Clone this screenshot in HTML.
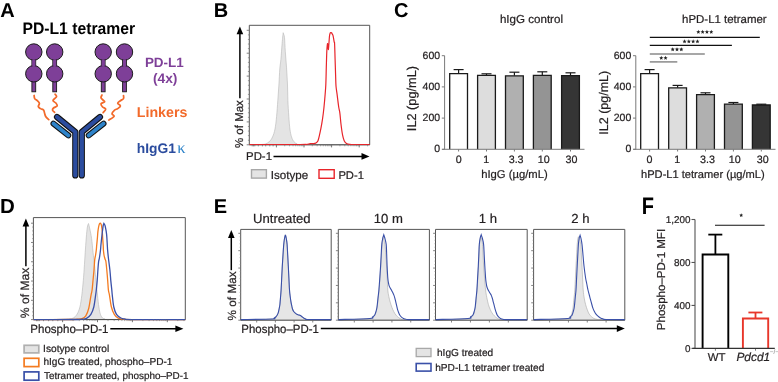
<!DOCTYPE html>
<html><head><meta charset="utf-8"><style>
html,body{margin:0;padding:0;background:#fff;overflow:hidden;}
svg{display:block;font-family:"Liberation Sans", sans-serif;will-change:transform;text-rendering:geometricPrecision;}
</style></head><body>
<svg width="778" height="382" viewBox="0 0 778 382">
<text x="0.15" y="16.5" font-size="20" text-anchor="start" font-weight="bold" fill="#000">A</text>
<text x="0" y="0" font-size="15.72" font-weight="bold" fill="#000" transform="translate(22.45 33.7) scale(1 1.06)">PD-L1 tetramer</text>
<rect x="31.9" y="58" width="3.8" height="33.8" fill="#7e3f98" stroke="#1a1a1a" stroke-width="0.9"/>
<circle cx="33.8" cy="52" r="8.2" fill="#7e3f98" stroke="#1a1a1a" stroke-width="1"/>
<circle cx="33.8" cy="73.8" r="8.2" fill="#7e3f98" stroke="#1a1a1a" stroke-width="1"/>
<rect x="32.3" y="59.5" width="3.0" height="7" fill="#7e3f98" stroke="none" stroke-width="1"/>
<rect x="52.800000000000004" y="58" width="3.8" height="33.8" fill="#7e3f98" stroke="#1a1a1a" stroke-width="0.9"/>
<circle cx="54.7" cy="52" r="8.2" fill="#7e3f98" stroke="#1a1a1a" stroke-width="1"/>
<circle cx="54.7" cy="73.8" r="8.2" fill="#7e3f98" stroke="#1a1a1a" stroke-width="1"/>
<rect x="53.2" y="59.5" width="3.0" height="7" fill="#7e3f98" stroke="none" stroke-width="1"/>
<rect x="101.3" y="58" width="3.8" height="33.8" fill="#7e3f98" stroke="#1a1a1a" stroke-width="0.9"/>
<circle cx="103.2" cy="52" r="8.2" fill="#7e3f98" stroke="#1a1a1a" stroke-width="1"/>
<circle cx="103.2" cy="73.8" r="8.2" fill="#7e3f98" stroke="#1a1a1a" stroke-width="1"/>
<rect x="101.7" y="59.5" width="3.0" height="7" fill="#7e3f98" stroke="none" stroke-width="1"/>
<rect x="122.6" y="58" width="3.8" height="33.8" fill="#7e3f98" stroke="#1a1a1a" stroke-width="0.9"/>
<circle cx="124.5" cy="52" r="8.2" fill="#7e3f98" stroke="#1a1a1a" stroke-width="1"/>
<circle cx="124.5" cy="73.8" r="8.2" fill="#7e3f98" stroke="#1a1a1a" stroke-width="1"/>
<rect x="123.0" y="59.5" width="3.0" height="7" fill="#7e3f98" stroke="none" stroke-width="1"/>
<path d="M34.10,95.50 C34.20,96.02 34.17,97.73 34.70,98.60 C35.23,99.47 36.52,99.92 37.30,100.70 C38.08,101.48 39.23,102.33 39.40,103.30 C39.57,104.27 38.13,105.62 38.30,106.50 C38.47,107.38 39.52,108.00 40.40,108.60 C41.28,109.20 42.90,109.32 43.60,110.10 C44.30,110.88 44.25,112.25 44.60,113.30 C44.95,114.35 45.00,115.35 45.70,116.40 C46.40,117.45 48.28,119.07 48.80,119.60" fill="none" stroke="#f26a2a" stroke-width="1.75" stroke-linecap="round"/>
<path d="M55.10,94.20 C55.35,94.58 56.68,95.77 56.60,96.50 C56.52,97.23 55.20,97.90 54.60,98.60 C54.00,99.30 52.75,99.92 53.00,100.70 C53.25,101.48 55.40,102.43 56.10,103.30 C56.80,104.17 57.63,105.12 57.20,105.90 C56.77,106.68 54.28,107.30 53.50,108.00 C52.72,108.70 52.32,109.37 52.50,110.10 C52.68,110.83 54.25,112.02 54.60,112.40" fill="none" stroke="#f26a2a" stroke-width="1.75" stroke-linecap="round"/>
<path d="M102.00,95.00 C101.83,95.43 100.90,96.82 101.00,97.60 C101.10,98.38 101.98,99.00 102.60,99.70 C103.22,100.40 104.97,101.12 104.70,101.80 C104.43,102.48 101.35,102.93 101.00,103.80 C100.65,104.67 101.82,106.12 102.60,107.00 C103.38,107.88 105.62,108.15 105.70,109.10 C105.78,110.05 103.53,112.10 103.10,112.70" fill="none" stroke="#f26a2a" stroke-width="1.75" stroke-linecap="round"/>
<path d="M123.50,95.50 C123.50,96.02 124.02,97.73 123.50,98.60 C122.98,99.47 121.37,99.92 120.40,100.70 C119.43,101.48 117.70,102.43 117.70,103.30 C117.70,104.17 120.40,105.02 120.40,105.90 C120.40,106.78 118.67,107.90 117.70,108.60 C116.73,109.30 115.55,109.23 114.60,110.10 C113.65,110.97 112.08,112.75 112.00,113.80 C111.92,114.85 114.63,115.35 114.10,116.40 C113.57,117.45 109.68,119.48 108.80,120.10" fill="none" stroke="#f26a2a" stroke-width="1.75" stroke-linecap="round"/>
<path d="M57.0,117.0 L75.3,132.0 L75.3,175.5" fill="none" stroke="#111" stroke-width="6.2" stroke-linecap="round" stroke-linejoin="round"/>
<path d="M57.0,117.0 L75.3,132.0 L75.3,175.5" fill="none" stroke="#2b4c9e" stroke-width="4.2" stroke-linecap="round" stroke-linejoin="round"/>
<path d="M100.0,117.0 L81.8,132.0 L81.8,175.5" fill="none" stroke="#111" stroke-width="6.2" stroke-linecap="round" stroke-linejoin="round"/>
<path d="M100.0,117.0 L81.8,132.0 L81.8,175.5" fill="none" stroke="#2b4c9e" stroke-width="4.2" stroke-linecap="round" stroke-linejoin="round"/>
<path d="M53.4,123.6 L68.4,135.4" fill="none" stroke="#111" stroke-width="5.8" stroke-linecap="round"/>
<path d="M53.4,123.6 L68.4,135.4" fill="none" stroke="#2e83c9" stroke-width="3.8" stroke-linecap="round"/>
<path d="M103.6,123.6 L88.6,135.4" fill="none" stroke="#111" stroke-width="5.8" stroke-linecap="round"/>
<path d="M103.6,123.6 L88.6,135.4" fill="none" stroke="#2e83c9" stroke-width="3.8" stroke-linecap="round"/>
<text x="144.90" y="66.90" font-size="13.46" font-weight="bold" fill="#7e3f98">PD-L1</text>
<text x="152.91" y="83.20" font-size="13.8" font-weight="bold" fill="#7e3f98">(4x)</text>
<text x="136.85" y="117.00" font-size="14.2" font-weight="bold" fill="#f26a2a">Linkers</text>
<text x="136.84" y="152.60" font-size="13.8" font-weight="bold" fill="#2b4c9e">hIgG1</text>
<text x="177.3" y="153.2" font-size="16.5" font-family="Liberation Serif, serif" fill="#2e83c9">&#954;</text>
<text x="213.8" y="16.7" font-size="20" text-anchor="start" font-weight="bold" fill="#000">B</text>
<path d="M249.30,144.80 C250.75,144.78 255.80,144.77 258.00,144.70 C260.20,144.63 261.23,144.53 262.50,144.40 C263.77,144.27 264.43,144.38 265.60,143.90 C266.77,143.42 268.33,142.68 269.50,141.50 C270.67,140.32 271.68,138.88 272.60,136.80 C273.52,134.72 274.33,132.40 275.00,129.00 C275.67,125.60 276.13,121.12 276.60,116.40 C277.07,111.68 277.42,105.93 277.80,100.70 C278.18,95.47 278.57,90.32 278.90,85.00 C279.23,79.68 279.47,73.07 279.80,68.80 C280.13,64.53 280.52,63.58 280.90,59.40 C281.28,55.22 281.80,47.43 282.10,43.70 C282.40,39.97 282.52,38.83 282.70,37.00 C282.88,35.17 283.12,33.42 283.20,32.70 C283.32,33.08 283.68,34.22 283.90,35.00 C284.12,35.78 284.27,34.65 284.50,37.40 C284.73,40.15 284.97,46.53 285.30,51.50 C285.63,56.47 286.13,61.62 286.50,67.20 C286.87,72.78 287.27,79.42 287.50,85.00 C287.73,90.58 287.68,95.47 287.90,100.70 C288.12,105.93 288.47,111.68 288.80,116.40 C289.13,121.12 289.45,125.60 289.90,129.00 C290.35,132.40 290.85,134.72 291.50,136.80 C292.15,138.88 292.88,140.32 293.80,141.50 C294.72,142.68 295.80,143.38 297.00,143.90 C298.20,144.42 288.88,144.45 301.00,144.60 C313.12,144.75 358.25,144.77 369.70,144.80 Z" fill="#e4e4e4" stroke="#b5b5b5" stroke-width="0.6"/>
<path d="M249.3,144.8 L249.3,25.3 L369.7,25.3 L369.7,144.8" fill="none" stroke="#555" stroke-width="1"/>
<line x1="249.3" y1="144.8" x2="369.7" y2="144.8" stroke="#444" stroke-width="1"/>
<path d="M249.30,144.50 C257.75,144.50 290.48,144.53 300.00,144.50 C309.52,144.47 304.82,144.42 306.40,144.30 C307.98,144.18 308.63,143.93 309.50,143.80 C310.37,143.67 310.92,143.52 311.60,143.50 C312.28,143.48 312.88,143.78 313.60,143.70 C314.32,143.62 315.17,143.50 315.90,143.00 C316.63,142.50 317.35,142.25 318.00,140.70 C318.65,139.15 319.18,136.45 319.80,133.70 C320.42,130.95 321.12,127.60 321.70,124.20 C322.28,120.80 322.82,117.22 323.30,113.30 C323.78,109.38 324.18,105.42 324.60,100.70 C325.02,95.98 325.52,90.58 325.80,85.00 C326.08,79.42 326.13,72.78 326.30,67.20 C326.47,61.62 326.63,55.20 326.80,51.50 C326.97,47.80 327.17,46.30 327.30,45.00 C327.43,43.70 327.48,43.53 327.60,43.70 C327.72,43.87 327.87,45.03 328.00,46.00 C328.13,46.97 328.25,49.83 328.40,49.50 C328.55,49.17 328.72,46.25 328.90,44.00 C329.08,41.75 329.28,37.83 329.50,36.00 C329.72,34.17 329.97,33.57 330.20,33.00 C330.43,32.43 330.78,32.67 330.90,32.60 C331.03,32.67 331.43,32.68 331.70,33.00 C331.97,33.32 332.27,34.03 332.50,34.50 C332.73,34.97 332.82,34.53 333.10,35.80 C333.38,37.07 333.95,40.78 334.20,42.10 C334.45,43.42 334.45,40.82 334.60,43.70 C334.75,46.58 334.93,54.18 335.10,59.40 C335.27,64.62 335.45,70.57 335.60,75.00 C335.75,79.43 335.75,82.77 336.00,86.00 C336.25,89.23 336.65,90.90 337.10,94.40 C337.55,97.90 338.23,103.85 338.70,107.00 C339.17,110.15 339.52,110.43 339.90,113.30 C340.28,116.17 340.55,120.55 341.00,124.20 C341.45,127.85 342.07,132.45 342.60,135.20 C343.13,137.95 343.55,139.33 344.20,140.70 C344.85,142.07 345.58,142.80 346.50,143.40 C347.42,144.00 348.28,144.12 349.70,144.30 C351.12,144.48 351.67,144.47 355.00,144.50 C358.33,144.53 367.25,144.50 369.70,144.50" fill="none" stroke="#e8242a" stroke-width="1.2"/>
<line x1="246.70000000000002" y1="144.8" x2="249.3" y2="144.8" stroke="#777" stroke-width="0.9"/>
<line x1="247.9" y1="140.22" x2="249.3" y2="140.22" stroke="#777" stroke-width="0.7"/>
<line x1="247.9" y1="135.64000000000001" x2="249.3" y2="135.64000000000001" stroke="#777" stroke-width="0.7"/>
<line x1="247.9" y1="131.06" x2="249.3" y2="131.06" stroke="#777" stroke-width="0.7"/>
<line x1="247.9" y1="126.48000000000002" x2="249.3" y2="126.48000000000002" stroke="#777" stroke-width="0.7"/>
<line x1="246.70000000000002" y1="121.9" x2="249.3" y2="121.9" stroke="#777" stroke-width="0.9"/>
<line x1="247.9" y1="117.32000000000001" x2="249.3" y2="117.32000000000001" stroke="#777" stroke-width="0.7"/>
<line x1="247.9" y1="112.74000000000001" x2="249.3" y2="112.74000000000001" stroke="#777" stroke-width="0.7"/>
<line x1="247.9" y1="108.16000000000001" x2="249.3" y2="108.16000000000001" stroke="#777" stroke-width="0.7"/>
<line x1="247.9" y1="103.58000000000001" x2="249.3" y2="103.58000000000001" stroke="#777" stroke-width="0.7"/>
<line x1="246.70000000000002" y1="99.00000000000001" x2="249.3" y2="99.00000000000001" stroke="#777" stroke-width="0.9"/>
<line x1="247.9" y1="94.42000000000002" x2="249.3" y2="94.42000000000002" stroke="#777" stroke-width="0.7"/>
<line x1="247.9" y1="89.84000000000002" x2="249.3" y2="89.84000000000002" stroke="#777" stroke-width="0.7"/>
<line x1="247.9" y1="85.26000000000002" x2="249.3" y2="85.26000000000002" stroke="#777" stroke-width="0.7"/>
<line x1="247.9" y1="80.68" x2="249.3" y2="80.68" stroke="#777" stroke-width="0.7"/>
<line x1="246.70000000000002" y1="76.10000000000002" x2="249.3" y2="76.10000000000002" stroke="#777" stroke-width="0.9"/>
<line x1="247.9" y1="71.52000000000002" x2="249.3" y2="71.52000000000002" stroke="#777" stroke-width="0.7"/>
<line x1="247.9" y1="66.94000000000003" x2="249.3" y2="66.94000000000003" stroke="#777" stroke-width="0.7"/>
<line x1="247.9" y1="62.36000000000003" x2="249.3" y2="62.36000000000003" stroke="#777" stroke-width="0.7"/>
<line x1="247.9" y1="57.78000000000002" x2="249.3" y2="57.78000000000002" stroke="#777" stroke-width="0.7"/>
<line x1="246.70000000000002" y1="53.20000000000002" x2="249.3" y2="53.20000000000002" stroke="#777" stroke-width="0.9"/>
<line x1="247.9" y1="48.62000000000002" x2="249.3" y2="48.62000000000002" stroke="#777" stroke-width="0.7"/>
<line x1="247.9" y1="44.04000000000002" x2="249.3" y2="44.04000000000002" stroke="#777" stroke-width="0.7"/>
<line x1="247.9" y1="39.46000000000002" x2="249.3" y2="39.46000000000002" stroke="#777" stroke-width="0.7"/>
<line x1="247.9" y1="34.88000000000002" x2="249.3" y2="34.88000000000002" stroke="#777" stroke-width="0.7"/>
<line x1="246.70000000000002" y1="30.30000000000001" x2="249.3" y2="30.30000000000001" stroke="#777" stroke-width="0.9"/>
<line x1="276.4" y1="144.8" x2="276.4" y2="147.4" stroke="#666" stroke-width="0.9"/>
<line x1="304.0" y1="144.8" x2="304.0" y2="147.4" stroke="#666" stroke-width="0.9"/>
<line x1="331.6" y1="144.8" x2="331.6" y2="147.4" stroke="#666" stroke-width="0.9"/>
<line x1="359.2" y1="144.8" x2="359.2" y2="147.4" stroke="#666" stroke-width="0.9"/>
<line x1="284.70842788032587" y1="144.8" x2="284.70842788032587" y2="146.3" stroke="#777" stroke-width="0.6"/>
<line x1="289.5685466302627" y1="144.8" x2="289.5685466302627" y2="146.3" stroke="#777" stroke-width="0.6"/>
<line x1="293.01685576065177" y1="144.8" x2="293.01685576065177" y2="146.3" stroke="#777" stroke-width="0.6"/>
<line x1="295.6915721196741" y1="144.8" x2="295.6915721196741" y2="146.3" stroke="#777" stroke-width="0.6"/>
<line x1="297.8769745105885" y1="144.8" x2="297.8769745105885" y2="146.3" stroke="#777" stroke-width="0.6"/>
<line x1="299.7247059043935" y1="144.8" x2="299.7247059043935" y2="146.3" stroke="#777" stroke-width="0.6"/>
<line x1="301.3252836409776" y1="144.8" x2="301.3252836409776" y2="146.3" stroke="#777" stroke-width="0.6"/>
<line x1="302.73709326052534" y1="144.8" x2="302.73709326052534" y2="146.3" stroke="#777" stroke-width="0.6"/>
<line x1="312.3084278803259" y1="144.8" x2="312.3084278803259" y2="146.3" stroke="#777" stroke-width="0.6"/>
<line x1="317.1685466302627" y1="144.8" x2="317.1685466302627" y2="146.3" stroke="#777" stroke-width="0.6"/>
<line x1="320.6168557606518" y1="144.8" x2="320.6168557606518" y2="146.3" stroke="#777" stroke-width="0.6"/>
<line x1="323.29157211967413" y1="144.8" x2="323.29157211967413" y2="146.3" stroke="#777" stroke-width="0.6"/>
<line x1="325.47697451058855" y1="144.8" x2="325.47697451058855" y2="146.3" stroke="#777" stroke-width="0.6"/>
<line x1="327.3247059043935" y1="144.8" x2="327.3247059043935" y2="146.3" stroke="#777" stroke-width="0.6"/>
<line x1="328.9252836409776" y1="144.8" x2="328.9252836409776" y2="146.3" stroke="#777" stroke-width="0.6"/>
<line x1="330.33709326052536" y1="144.8" x2="330.33709326052536" y2="146.3" stroke="#777" stroke-width="0.6"/>
<line x1="339.9084278803259" y1="144.8" x2="339.9084278803259" y2="146.3" stroke="#777" stroke-width="0.6"/>
<line x1="344.76854663026273" y1="144.8" x2="344.76854663026273" y2="146.3" stroke="#777" stroke-width="0.6"/>
<line x1="348.2168557606518" y1="144.8" x2="348.2168557606518" y2="146.3" stroke="#777" stroke-width="0.6"/>
<line x1="350.89157211967415" y1="144.8" x2="350.89157211967415" y2="146.3" stroke="#777" stroke-width="0.6"/>
<line x1="353.07697451058857" y1="144.8" x2="353.07697451058857" y2="146.3" stroke="#777" stroke-width="0.6"/>
<line x1="354.92470590439353" y1="144.8" x2="354.92470590439353" y2="146.3" stroke="#777" stroke-width="0.6"/>
<line x1="356.52528364097765" y1="144.8" x2="356.52528364097765" y2="146.3" stroke="#777" stroke-width="0.6"/>
<line x1="357.9370932605254" y1="144.8" x2="357.9370932605254" y2="146.3" stroke="#777" stroke-width="0.6"/>
<line x1="367.5084278803259" y1="144.8" x2="367.5084278803259" y2="146.3" stroke="#777" stroke-width="0.6"/>
<line x1="252.2" y1="144.8" x2="252.2" y2="146.4" stroke="#666" stroke-width="0.7"/>
<line x1="253.5" y1="144.8" x2="253.5" y2="146.4" stroke="#666" stroke-width="0.7"/>
<line x1="254.8" y1="144.8" x2="254.8" y2="146.4" stroke="#666" stroke-width="0.7"/>
<line x1="258.3" y1="144.8" x2="258.3" y2="146.4" stroke="#666" stroke-width="0.7"/>
<line x1="262.4" y1="144.8" x2="262.4" y2="146.4" stroke="#666" stroke-width="0.7"/>
<line x1="265.7" y1="144.8" x2="265.7" y2="146.4" stroke="#666" stroke-width="0.7"/>
<line x1="269.8" y1="144.8" x2="269.8" y2="146.4" stroke="#666" stroke-width="0.7"/>
<line x1="273.1" y1="144.8" x2="273.1" y2="146.4" stroke="#666" stroke-width="0.7"/>
<line x1="239.9" y1="98.2" x2="239.9" y2="33" stroke="#000" stroke-width="1.5"/>
<polygon points="239.9,26.4 236.6,34.2 243.2,34.2" fill="#000"/>
<text x="0" y="0" font-size="11.47" font-weight="normal" fill="#231f20" stroke="#231f20" stroke-width="0.22" transform="translate(242.60 148.01) rotate(-90)">% of Max</text>
<text x="246.06" y="159.50" font-size="11.4" font-weight="normal" fill="#231f20" stroke="#231f20" stroke-width="0.22">PD-1</text>
<line x1="273.5" y1="156.4" x2="362" y2="156.4" stroke="#000" stroke-width="1.5"/>
<polygon points="369.5,156.4 361.5,153.1 361.5,159.7" fill="#000"/>
<rect x="251.5" y="169.7" width="14.9" height="8.4" fill="#e4e4e4" stroke="#a8a8a8" stroke-width="1.4"/>
<text x="270.83" y="178.50" font-size="11.6" font-weight="normal" fill="#231f20" stroke="#231f20" stroke-width="0.22">Isotype</text>
<rect x="319.0" y="169.7" width="15.2" height="8.6" fill="#fff" stroke="#e8242a" stroke-width="1.4"/>
<text x="338.38" y="178.50" font-size="11.2" font-weight="normal" fill="#231f20" stroke="#231f20" stroke-width="0.22">PD-1</text>
<text x="393.9" y="16.9" font-size="20" text-anchor="start" font-weight="bold" fill="#000">C</text>
<line x1="458.6" y1="69.6" x2="458.6" y2="73.7" stroke="#1a1a1a" stroke-width="1.2"/>
<line x1="453.6" y1="69.6" x2="463.6" y2="69.6" stroke="#1a1a1a" stroke-width="1.2"/>
<rect x="449.70000000000005" y="73.7" width="17.8" height="75.60000000000001" fill="#ffffff" stroke="none" stroke-width="1"/>
<path d="M449.70000000000005,149.3 V73.7 H467.5 V149.3" fill="none" stroke="#1a1a1a" stroke-width="1.3"/>
<line x1="486.5" y1="73.8" x2="486.5" y2="75.3" stroke="#1a1a1a" stroke-width="1.2"/>
<line x1="481.5" y1="73.8" x2="491.5" y2="73.8" stroke="#1a1a1a" stroke-width="1.2"/>
<rect x="477.6" y="75.3" width="17.8" height="74.00000000000001" fill="#dddddd" stroke="none" stroke-width="1"/>
<path d="M477.6,149.3 V75.3 H495.4 V149.3" fill="none" stroke="#1a1a1a" stroke-width="1.3"/>
<line x1="514.4" y1="72.2" x2="514.4" y2="75.8" stroke="#1a1a1a" stroke-width="1.2"/>
<line x1="509.4" y1="72.2" x2="519.4" y2="72.2" stroke="#1a1a1a" stroke-width="1.2"/>
<rect x="505.5" y="75.8" width="17.8" height="73.50000000000001" fill="#b0b0b0" stroke="none" stroke-width="1"/>
<path d="M505.5,149.3 V75.8 H523.3 V149.3" fill="none" stroke="#1a1a1a" stroke-width="1.3"/>
<line x1="542.3" y1="71.8" x2="542.3" y2="75.3" stroke="#1a1a1a" stroke-width="1.2"/>
<line x1="537.3" y1="71.8" x2="547.3" y2="71.8" stroke="#1a1a1a" stroke-width="1.2"/>
<rect x="533.4" y="75.3" width="17.8" height="74.00000000000001" fill="#949494" stroke="none" stroke-width="1"/>
<path d="M533.4,149.3 V75.3 H551.1999999999999 V149.3" fill="none" stroke="#1a1a1a" stroke-width="1.3"/>
<line x1="570.5" y1="72.8" x2="570.5" y2="75.7" stroke="#1a1a1a" stroke-width="1.2"/>
<line x1="565.5" y1="72.8" x2="575.5" y2="72.8" stroke="#1a1a1a" stroke-width="1.2"/>
<rect x="561.6" y="75.7" width="17.8" height="73.60000000000001" fill="#353535" stroke="none" stroke-width="1"/>
<path d="M561.6,149.3 V75.7 H579.4 V149.3" fill="none" stroke="#1a1a1a" stroke-width="1.3"/>
<line x1="444.6" y1="55.7" x2="444.6" y2="149.3" stroke="#7a7a7a" stroke-width="1"/>
<line x1="442.3" y1="149.3" x2="584.5" y2="149.3" stroke="#7a7a7a" stroke-width="1"/>
<line x1="441.8" y1="149.3" x2="444.6" y2="149.3" stroke="#7a7a7a" stroke-width="1"/>
<text x="434.27" y="152.20" font-size="10.5" font-weight="normal" fill="#231f20" stroke="#231f20" stroke-width="0.22">0</text>
<line x1="441.8" y1="118.10000000000001" x2="444.6" y2="118.10000000000001" stroke="#7a7a7a" stroke-width="1"/>
<text x="422.59" y="121.00" font-size="10.5" font-weight="normal" fill="#231f20" stroke="#231f20" stroke-width="0.22">200</text>
<line x1="441.8" y1="86.9" x2="444.6" y2="86.9" stroke="#7a7a7a" stroke-width="1"/>
<text x="422.59" y="89.80" font-size="10.5" font-weight="normal" fill="#231f20" stroke="#231f20" stroke-width="0.22">400</text>
<line x1="441.8" y1="55.69999999999999" x2="444.6" y2="55.69999999999999" stroke="#7a7a7a" stroke-width="1"/>
<text x="422.59" y="58.60" font-size="10.5" font-weight="normal" fill="#231f20" stroke="#231f20" stroke-width="0.22">600</text>
<line x1="458.6" y1="149.3" x2="458.6" y2="151.5" stroke="#7a7a7a" stroke-width="1"/>
<line x1="486.5" y1="149.3" x2="486.5" y2="151.5" stroke="#7a7a7a" stroke-width="1"/>
<line x1="514.4" y1="149.3" x2="514.4" y2="151.5" stroke="#7a7a7a" stroke-width="1"/>
<line x1="542.3" y1="149.3" x2="542.3" y2="151.5" stroke="#7a7a7a" stroke-width="1"/>
<line x1="570.5" y1="149.3" x2="570.5" y2="151.5" stroke="#7a7a7a" stroke-width="1"/>
<text x="455.72" y="162.50" font-size="10.7" font-weight="normal" fill="#231f20" stroke="#231f20" stroke-width="0.22">0</text>
<text x="483.18" y="162.50" font-size="10.7" font-weight="normal" fill="#231f20" stroke="#231f20" stroke-width="0.22">1</text>
<text x="508.69" y="162.50" font-size="10.7" font-weight="normal" fill="#231f20" stroke="#231f20" stroke-width="0.22">3.3</text>
<text x="537.75" y="162.50" font-size="10.7" font-weight="normal" fill="#231f20" stroke="#231f20" stroke-width="0.22">10</text>
<text x="565.55" y="162.50" font-size="10.7" font-weight="normal" fill="#231f20" stroke="#231f20" stroke-width="0.22">30</text>
<text x="499.90" y="22.70" font-size="11.58" font-weight="normal" fill="#231f20" stroke="#231f20" stroke-width="0.22">hIgG control</text>
<text x="481.22" y="177.60" font-size="11.25" font-weight="normal" fill="#231f20" stroke="#231f20" stroke-width="0.22">hIgG (µg/mL)</text>
<text x="0" y="0" font-size="12.74" font-weight="normal" fill="#231f20" stroke="#231f20" stroke-width="0.22" transform="translate(415.70 131.16) rotate(-90)">IL2 (pg/mL)</text>
<line x1="649.6" y1="69.6" x2="649.6" y2="73.7" stroke="#1a1a1a" stroke-width="1.2"/>
<line x1="644.6" y1="69.6" x2="654.6" y2="69.6" stroke="#1a1a1a" stroke-width="1.2"/>
<rect x="640.7" y="73.7" width="17.8" height="75.60000000000001" fill="#ffffff" stroke="none" stroke-width="1"/>
<path d="M640.7,149.3 V73.7 H658.5 V149.3" fill="none" stroke="#1a1a1a" stroke-width="1.3"/>
<line x1="677.6" y1="85.4" x2="677.6" y2="87.8" stroke="#1a1a1a" stroke-width="1.2"/>
<line x1="672.6" y1="85.4" x2="682.6" y2="85.4" stroke="#1a1a1a" stroke-width="1.2"/>
<rect x="668.7" y="87.8" width="17.8" height="61.500000000000014" fill="#dddddd" stroke="none" stroke-width="1"/>
<path d="M668.7,149.3 V87.8 H686.5 V149.3" fill="none" stroke="#1a1a1a" stroke-width="1.3"/>
<line x1="705.5" y1="92.8" x2="705.5" y2="94.6" stroke="#1a1a1a" stroke-width="1.2"/>
<line x1="700.5" y1="92.8" x2="710.5" y2="92.8" stroke="#1a1a1a" stroke-width="1.2"/>
<rect x="696.6" y="94.6" width="17.8" height="54.70000000000002" fill="#b0b0b0" stroke="none" stroke-width="1"/>
<path d="M696.6,149.3 V94.6 H714.4 V149.3" fill="none" stroke="#1a1a1a" stroke-width="1.3"/>
<line x1="733.4" y1="102.5" x2="733.4" y2="104.1" stroke="#1a1a1a" stroke-width="1.2"/>
<line x1="728.4" y1="102.5" x2="738.4" y2="102.5" stroke="#1a1a1a" stroke-width="1.2"/>
<rect x="724.5" y="104.1" width="17.8" height="45.20000000000002" fill="#949494" stroke="none" stroke-width="1"/>
<path d="M724.5,149.3 V104.1 H742.3 V149.3" fill="none" stroke="#1a1a1a" stroke-width="1.3"/>
<line x1="761.3" y1="104.2" x2="761.3" y2="105.0" stroke="#1a1a1a" stroke-width="1.2"/>
<line x1="756.3" y1="104.2" x2="766.3" y2="104.2" stroke="#1a1a1a" stroke-width="1.2"/>
<rect x="752.4" y="105.0" width="17.8" height="44.30000000000001" fill="#353535" stroke="none" stroke-width="1"/>
<path d="M752.4,149.3 V105.0 H770.1999999999999 V149.3" fill="none" stroke="#1a1a1a" stroke-width="1.3"/>
<line x1="635.8" y1="55.7" x2="635.8" y2="149.3" stroke="#7a7a7a" stroke-width="1"/>
<line x1="633.5" y1="149.3" x2="775.5" y2="149.3" stroke="#7a7a7a" stroke-width="1"/>
<line x1="633.0" y1="149.3" x2="635.8" y2="149.3" stroke="#7a7a7a" stroke-width="1"/>
<text x="625.47" y="152.20" font-size="10.5" font-weight="normal" fill="#231f20" stroke="#231f20" stroke-width="0.22">0</text>
<line x1="633.0" y1="118.10000000000001" x2="635.8" y2="118.10000000000001" stroke="#7a7a7a" stroke-width="1"/>
<text x="613.79" y="121.00" font-size="10.5" font-weight="normal" fill="#231f20" stroke="#231f20" stroke-width="0.22">200</text>
<line x1="633.0" y1="86.9" x2="635.8" y2="86.9" stroke="#7a7a7a" stroke-width="1"/>
<text x="613.79" y="89.80" font-size="10.5" font-weight="normal" fill="#231f20" stroke="#231f20" stroke-width="0.22">400</text>
<line x1="633.0" y1="55.69999999999999" x2="635.8" y2="55.69999999999999" stroke="#7a7a7a" stroke-width="1"/>
<text x="613.79" y="58.60" font-size="10.5" font-weight="normal" fill="#231f20" stroke="#231f20" stroke-width="0.22">600</text>
<line x1="649.6" y1="149.3" x2="649.6" y2="151.5" stroke="#7a7a7a" stroke-width="1"/>
<line x1="677.6" y1="149.3" x2="677.6" y2="151.5" stroke="#7a7a7a" stroke-width="1"/>
<line x1="705.5" y1="149.3" x2="705.5" y2="151.5" stroke="#7a7a7a" stroke-width="1"/>
<line x1="733.4" y1="149.3" x2="733.4" y2="151.5" stroke="#7a7a7a" stroke-width="1"/>
<line x1="761.3" y1="149.3" x2="761.3" y2="151.5" stroke="#7a7a7a" stroke-width="1"/>
<text x="646.62" y="162.50" font-size="10.7" font-weight="normal" fill="#231f20" stroke="#231f20" stroke-width="0.22">0</text>
<text x="674.28" y="162.50" font-size="10.7" font-weight="normal" fill="#231f20" stroke="#231f20" stroke-width="0.22">1</text>
<text x="700.09" y="162.50" font-size="10.7" font-weight="normal" fill="#231f20" stroke="#231f20" stroke-width="0.22">3.3</text>
<text x="728.85" y="162.50" font-size="10.7" font-weight="normal" fill="#231f20" stroke="#231f20" stroke-width="0.22">10</text>
<text x="756.85" y="162.50" font-size="10.7" font-weight="normal" fill="#231f20" stroke="#231f20" stroke-width="0.22">30</text>
<text x="682.11" y="23.00" font-size="11.44" font-weight="normal" fill="#231f20" stroke="#231f20" stroke-width="0.22">hPD-L1 tetramer</text>
<text x="641.03" y="177.60" font-size="11.11" font-weight="normal" fill="#231f20" stroke="#231f20" stroke-width="0.22">hPD-L1 tetramer (µg/mL)</text>
<text x="0" y="0" font-size="12.52" font-weight="normal" fill="#231f20" stroke="#231f20" stroke-width="0.22" transform="translate(607.90 134.75) rotate(-90)">IL2 (pg/mL)</text>
<line x1="649.8" y1="37.3" x2="759.8" y2="37.3" stroke="#111" stroke-width="1.2"/>
<polygon points="698.35,29.80 698.93,31.20 700.44,31.32 699.29,32.31 699.64,33.78 698.35,32.99 697.06,33.78 697.41,32.31 696.26,31.32 697.77,31.20" fill="#222"/>
<polygon points="702.65,29.80 703.23,31.20 704.74,31.32 703.59,32.31 703.94,33.78 702.65,32.99 701.36,33.78 701.71,32.31 700.56,31.32 702.07,31.20" fill="#222"/>
<polygon points="706.95,29.80 707.53,31.20 709.04,31.32 707.89,32.31 708.24,33.78 706.95,32.99 705.66,33.78 706.01,32.31 704.86,31.32 706.37,31.20" fill="#222"/>
<polygon points="711.25,29.80 711.83,31.20 713.34,31.32 712.19,32.31 712.54,33.78 711.25,32.99 709.96,33.78 710.31,32.31 709.16,31.32 710.67,31.20" fill="#222"/>
<line x1="649.8" y1="45.3" x2="731.9" y2="45.3" stroke="#111" stroke-width="1.2"/>
<polygon points="684.55,39.30 685.13,40.70 686.64,40.82 685.49,41.81 685.84,43.28 684.55,42.49 683.26,43.28 683.61,41.81 682.46,40.82 683.97,40.70" fill="#222"/>
<polygon points="688.85,39.30 689.43,40.70 690.94,40.82 689.79,41.81 690.14,43.28 688.85,42.49 687.56,43.28 687.91,41.81 686.76,40.82 688.27,40.70" fill="#222"/>
<polygon points="693.15,39.30 693.73,40.70 695.24,40.82 694.09,41.81 694.44,43.28 693.15,42.49 691.86,43.28 692.21,41.81 691.06,40.82 692.57,40.70" fill="#222"/>
<polygon points="697.45,39.30 698.03,40.70 699.54,40.82 698.39,41.81 698.74,43.28 697.45,42.49 696.16,43.28 696.51,41.81 695.36,40.82 696.87,40.70" fill="#222"/>
<line x1="649.8" y1="53.9" x2="704.8" y2="53.9" stroke="#8a8a8a" stroke-width="1.5"/>
<polygon points="672.70,47.20 673.28,48.60 674.79,48.72 673.64,49.71 673.99,51.18 672.70,50.39 671.41,51.18 671.76,49.71 670.61,48.72 672.12,48.60" fill="#222"/>
<polygon points="677.00,47.20 677.58,48.60 679.09,48.72 677.94,49.71 678.29,51.18 677.00,50.39 675.71,51.18 676.06,49.71 674.91,48.72 676.42,48.60" fill="#222"/>
<polygon points="681.30,47.20 681.88,48.60 683.39,48.72 682.24,49.71 682.59,51.18 681.30,50.39 680.01,51.18 680.36,49.71 679.21,48.72 680.72,48.60" fill="#222"/>
<line x1="649.8" y1="61.9" x2="677.3" y2="61.9" stroke="#8a8a8a" stroke-width="1.5"/>
<polygon points="661.25,55.80 661.83,57.20 663.34,57.32 662.19,58.31 662.54,59.78 661.25,58.99 659.96,59.78 660.31,58.31 659.16,57.32 660.67,57.20" fill="#222"/>
<polygon points="665.55,55.80 666.13,57.20 667.64,57.32 666.49,58.31 666.84,59.78 665.55,58.99 664.26,59.78 664.61,58.31 663.46,57.32 664.97,57.20" fill="#222"/>
<text x="-0.1" y="213.0" font-size="20.5" text-anchor="start" font-weight="bold" fill="#000">D</text>
<path d="M33.40,319.60 C37.00,319.57 50.23,319.47 55.00,319.40 C59.77,319.33 59.68,319.27 62.00,319.20 C64.32,319.13 67.02,319.20 68.90,319.00 C70.78,318.80 71.95,318.78 73.30,318.00 C74.65,317.22 75.90,316.13 77.00,314.30 C78.10,312.47 79.10,310.17 79.90,307.00 C80.70,303.83 81.23,299.70 81.80,295.30 C82.37,290.90 82.92,284.85 83.30,280.60 C83.68,276.35 83.85,273.42 84.10,269.80 C84.35,266.18 84.53,262.98 84.80,258.90 C85.07,254.82 85.37,249.85 85.70,245.30 C86.03,240.75 86.48,234.82 86.80,231.60 C87.12,228.38 87.32,227.35 87.60,226.00 C87.88,224.65 88.35,223.92 88.50,223.50 C88.72,224.40 89.28,226.40 89.80,228.90 C90.32,231.40 91.07,234.63 91.60,238.50 C92.13,242.37 92.55,248.02 93.00,252.10 C93.45,256.18 93.97,260.02 94.30,263.00 C94.63,265.98 94.72,267.07 95.00,270.00 C95.28,272.93 95.58,276.38 96.00,280.60 C96.42,284.82 97.02,290.90 97.50,295.30 C97.98,299.70 98.42,303.83 98.90,307.00 C99.38,310.17 99.78,312.47 100.40,314.30 C101.02,316.13 101.87,317.22 102.60,318.00 C103.33,318.78 103.57,318.77 104.80,319.00 C106.03,319.23 96.58,319.30 110.00,319.40 C123.42,319.50 172.75,319.57 185.30,319.60 Z" fill="#e4e4e4" stroke="#b5b5b5" stroke-width="0.6"/>
<path d="M33.4,319.6 L33.4,217.6 L185.3,217.6 L185.3,319.6" fill="none" stroke="#555" stroke-width="1"/>
<line x1="33.4" y1="319.6" x2="185.3" y2="319.6" stroke="#444" stroke-width="1"/>
<path d="M33.40,319.60 C39.50,319.58 62.73,319.57 70.00,319.50 C77.27,319.43 74.98,319.33 77.00,319.20 C79.02,319.07 80.63,319.27 82.10,318.70 C83.57,318.13 84.70,317.50 85.80,315.80 C86.90,314.10 87.83,311.92 88.70,308.50 C89.57,305.08 90.43,298.38 91.00,295.30 C91.57,292.22 91.77,292.45 92.10,290.00 C92.43,287.55 92.68,283.93 93.00,280.60 C93.32,277.27 93.72,273.43 94.00,270.00 C94.28,266.57 94.43,262.50 94.70,260.00 C94.97,257.50 95.33,256.67 95.60,255.00 C95.87,253.33 96.12,251.62 96.30,250.00 C96.48,248.38 96.52,247.30 96.70,245.30 C96.88,243.30 97.20,240.28 97.40,238.00 C97.60,235.72 97.70,233.43 97.90,231.60 C98.10,229.77 98.37,228.23 98.60,227.00 C98.83,225.77 99.03,224.83 99.30,224.20 C99.57,223.57 100.05,223.37 100.20,223.20 C100.33,223.33 100.77,223.50 101.00,224.00 C101.23,224.50 101.38,224.87 101.60,226.20 C101.82,227.53 102.12,229.95 102.30,232.00 C102.48,234.05 102.55,236.28 102.70,238.50 C102.85,240.72 103.08,243.38 103.20,245.30 C103.32,247.22 103.27,248.38 103.40,250.00 C103.53,251.62 103.80,253.75 104.00,255.00 C104.20,256.25 104.40,256.75 104.60,257.50 C104.80,258.25 104.98,258.83 105.20,259.50 C105.42,260.17 105.63,259.75 105.90,261.50 C106.17,263.25 106.50,266.82 106.80,270.00 C107.10,273.18 107.43,277.27 107.70,280.60 C107.97,283.93 108.10,287.55 108.40,290.00 C108.70,292.45 109.00,292.47 109.50,295.30 C110.00,298.13 110.60,303.83 111.40,307.00 C112.20,310.17 113.20,312.47 114.30,314.30 C115.40,316.13 116.72,317.20 118.00,318.00 C119.28,318.80 120.00,318.83 122.00,319.10 C124.00,319.37 119.45,319.52 130.00,319.60 C140.55,319.68 176.08,319.60 185.30,319.60" fill="none" stroke="#f47b20" stroke-width="1.3"/>
<path d="M33.40,319.60 C40.33,319.58 66.90,319.57 75.00,319.50 C83.10,319.43 80.08,319.38 82.00,319.20 C83.92,319.02 85.02,319.22 86.50,318.40 C87.98,317.58 89.68,316.20 90.90,314.30 C92.12,312.40 93.02,310.17 93.80,307.00 C94.58,303.83 95.18,298.13 95.60,295.30 C96.02,292.47 96.03,292.45 96.30,290.00 C96.57,287.55 96.93,283.93 97.20,280.60 C97.47,277.27 97.67,273.15 97.90,270.00 C98.13,266.85 98.35,263.70 98.60,261.70 C98.85,259.70 99.08,259.95 99.40,258.00 C99.72,256.05 100.25,252.12 100.50,250.00 C100.75,247.88 100.72,247.22 100.90,245.30 C101.08,243.38 101.32,241.05 101.60,238.50 C101.88,235.95 102.33,232.17 102.60,230.00 C102.87,227.83 102.98,226.58 103.20,225.50 C103.42,224.42 103.78,223.83 103.90,223.50 C104.00,223.67 104.28,224.05 104.50,224.50 C104.72,224.95 104.85,224.55 105.20,226.20 C105.55,227.85 106.25,231.22 106.60,234.40 C106.95,237.58 107.13,242.70 107.30,245.30 C107.47,247.90 107.42,247.88 107.60,250.00 C107.78,252.12 108.02,254.67 108.40,258.00 C108.78,261.33 109.50,266.23 109.90,270.00 C110.30,273.77 110.48,277.27 110.80,280.60 C111.12,283.93 111.55,287.55 111.80,290.00 C112.05,292.45 111.97,292.47 112.30,295.30 C112.63,298.13 113.10,303.83 113.80,307.00 C114.50,310.17 115.32,312.47 116.50,314.30 C117.68,316.13 119.48,317.22 120.90,318.00 C122.32,318.78 123.15,318.73 125.00,319.00 C126.85,319.27 121.95,319.50 132.00,319.60 C142.05,319.70 176.42,319.60 185.30,319.60" fill="none" stroke="#3a50a8" stroke-width="1.3"/>
<line x1="31.0" y1="319.6" x2="33.4" y2="319.6" stroke="#777" stroke-width="0.9"/>
<line x1="32.1" y1="315.744" x2="33.4" y2="315.744" stroke="#777" stroke-width="0.6"/>
<line x1="32.1" y1="311.88800000000003" x2="33.4" y2="311.88800000000003" stroke="#777" stroke-width="0.6"/>
<line x1="32.1" y1="308.03200000000004" x2="33.4" y2="308.03200000000004" stroke="#777" stroke-width="0.6"/>
<line x1="32.1" y1="304.17600000000004" x2="33.4" y2="304.17600000000004" stroke="#777" stroke-width="0.6"/>
<line x1="31.0" y1="300.32" x2="33.4" y2="300.32" stroke="#777" stroke-width="0.9"/>
<line x1="32.1" y1="296.464" x2="33.4" y2="296.464" stroke="#777" stroke-width="0.6"/>
<line x1="32.1" y1="292.608" x2="33.4" y2="292.608" stroke="#777" stroke-width="0.6"/>
<line x1="32.1" y1="288.752" x2="33.4" y2="288.752" stroke="#777" stroke-width="0.6"/>
<line x1="32.1" y1="284.896" x2="33.4" y2="284.896" stroke="#777" stroke-width="0.6"/>
<line x1="31.0" y1="281.04" x2="33.4" y2="281.04" stroke="#777" stroke-width="0.9"/>
<line x1="32.1" y1="277.184" x2="33.4" y2="277.184" stroke="#777" stroke-width="0.6"/>
<line x1="32.1" y1="273.32800000000003" x2="33.4" y2="273.32800000000003" stroke="#777" stroke-width="0.6"/>
<line x1="32.1" y1="269.47200000000004" x2="33.4" y2="269.47200000000004" stroke="#777" stroke-width="0.6"/>
<line x1="32.1" y1="265.61600000000004" x2="33.4" y2="265.61600000000004" stroke="#777" stroke-width="0.6"/>
<line x1="31.0" y1="261.76" x2="33.4" y2="261.76" stroke="#777" stroke-width="0.9"/>
<line x1="32.1" y1="257.904" x2="33.4" y2="257.904" stroke="#777" stroke-width="0.6"/>
<line x1="32.1" y1="254.048" x2="33.4" y2="254.048" stroke="#777" stroke-width="0.6"/>
<line x1="32.1" y1="250.19199999999998" x2="33.4" y2="250.19199999999998" stroke="#777" stroke-width="0.6"/>
<line x1="32.1" y1="246.33599999999998" x2="33.4" y2="246.33599999999998" stroke="#777" stroke-width="0.6"/>
<line x1="31.0" y1="242.48" x2="33.4" y2="242.48" stroke="#777" stroke-width="0.9"/>
<line x1="32.1" y1="238.624" x2="33.4" y2="238.624" stroke="#777" stroke-width="0.6"/>
<line x1="32.1" y1="234.768" x2="33.4" y2="234.768" stroke="#777" stroke-width="0.6"/>
<line x1="32.1" y1="230.91199999999998" x2="33.4" y2="230.91199999999998" stroke="#777" stroke-width="0.6"/>
<line x1="32.1" y1="227.05599999999998" x2="33.4" y2="227.05599999999998" stroke="#777" stroke-width="0.6"/>
<line x1="31.0" y1="223.2" x2="33.4" y2="223.2" stroke="#777" stroke-width="0.9"/>
<line x1="62.6" y1="319.6" x2="62.6" y2="322.20000000000005" stroke="#666" stroke-width="0.9"/>
<line x1="73.10594684867294" y1="319.6" x2="73.10594684867294" y2="321.1" stroke="#777" stroke-width="0.6"/>
<line x1="79.25153178971622" y1="319.6" x2="79.25153178971622" y2="321.1" stroke="#777" stroke-width="0.6"/>
<line x1="83.61189369734589" y1="319.6" x2="83.61189369734589" y2="321.1" stroke="#777" stroke-width="0.6"/>
<line x1="86.99405315132705" y1="319.6" x2="86.99405315132705" y2="321.1" stroke="#777" stroke-width="0.6"/>
<line x1="89.75747863838916" y1="319.6" x2="89.75747863838916" y2="321.1" stroke="#777" stroke-width="0.6"/>
<line x1="92.09392159649757" y1="319.6" x2="92.09392159649757" y2="321.1" stroke="#777" stroke-width="0.6"/>
<line x1="94.11784054601883" y1="319.6" x2="94.11784054601883" y2="321.1" stroke="#777" stroke-width="0.6"/>
<line x1="95.90306357943244" y1="319.6" x2="95.90306357943244" y2="321.1" stroke="#777" stroke-width="0.6"/>
<line x1="97.5" y1="319.6" x2="97.5" y2="322.20000000000005" stroke="#666" stroke-width="0.9"/>
<line x1="108.00594684867295" y1="319.6" x2="108.00594684867295" y2="321.1" stroke="#777" stroke-width="0.6"/>
<line x1="114.15153178971622" y1="319.6" x2="114.15153178971622" y2="321.1" stroke="#777" stroke-width="0.6"/>
<line x1="118.51189369734588" y1="319.6" x2="118.51189369734588" y2="321.1" stroke="#777" stroke-width="0.6"/>
<line x1="121.89405315132706" y1="319.6" x2="121.89405315132706" y2="321.1" stroke="#777" stroke-width="0.6"/>
<line x1="124.65747863838916" y1="319.6" x2="124.65747863838916" y2="321.1" stroke="#777" stroke-width="0.6"/>
<line x1="126.99392159649756" y1="319.6" x2="126.99392159649756" y2="321.1" stroke="#777" stroke-width="0.6"/>
<line x1="129.01784054601882" y1="319.6" x2="129.01784054601882" y2="321.1" stroke="#777" stroke-width="0.6"/>
<line x1="130.80306357943243" y1="319.6" x2="130.80306357943243" y2="321.1" stroke="#777" stroke-width="0.6"/>
<line x1="132.4" y1="319.6" x2="132.4" y2="322.20000000000005" stroke="#666" stroke-width="0.9"/>
<line x1="142.90594684867295" y1="319.6" x2="142.90594684867295" y2="321.1" stroke="#777" stroke-width="0.6"/>
<line x1="149.05153178971622" y1="319.6" x2="149.05153178971622" y2="321.1" stroke="#777" stroke-width="0.6"/>
<line x1="153.4118936973459" y1="319.6" x2="153.4118936973459" y2="321.1" stroke="#777" stroke-width="0.6"/>
<line x1="156.79405315132706" y1="319.6" x2="156.79405315132706" y2="321.1" stroke="#777" stroke-width="0.6"/>
<line x1="159.55747863838917" y1="319.6" x2="159.55747863838917" y2="321.1" stroke="#777" stroke-width="0.6"/>
<line x1="161.89392159649756" y1="319.6" x2="161.89392159649756" y2="321.1" stroke="#777" stroke-width="0.6"/>
<line x1="163.91784054601882" y1="319.6" x2="163.91784054601882" y2="321.1" stroke="#777" stroke-width="0.6"/>
<line x1="165.70306357943244" y1="319.6" x2="165.70306357943244" y2="321.1" stroke="#777" stroke-width="0.6"/>
<line x1="167.3" y1="319.6" x2="167.3" y2="322.20000000000005" stroke="#666" stroke-width="0.9"/>
<line x1="177.80594684867296" y1="319.6" x2="177.80594684867296" y2="321.1" stroke="#777" stroke-width="0.6"/>
<line x1="183.95153178971623" y1="319.6" x2="183.95153178971623" y2="321.1" stroke="#777" stroke-width="0.6"/>
<line x1="36.5" y1="319.6" x2="36.5" y2="321.20000000000005" stroke="#666" stroke-width="0.7"/>
<line x1="37.8" y1="319.6" x2="37.8" y2="321.20000000000005" stroke="#666" stroke-width="0.7"/>
<line x1="39.2" y1="319.6" x2="39.2" y2="321.20000000000005" stroke="#666" stroke-width="0.7"/>
<line x1="43.5" y1="319.6" x2="43.5" y2="321.20000000000005" stroke="#666" stroke-width="0.7"/>
<line x1="48.6" y1="319.6" x2="48.6" y2="321.20000000000005" stroke="#666" stroke-width="0.7"/>
<line x1="52.8" y1="319.6" x2="52.8" y2="321.20000000000005" stroke="#666" stroke-width="0.7"/>
<line x1="57.8" y1="319.6" x2="57.8" y2="321.20000000000005" stroke="#666" stroke-width="0.7"/>
<line x1="25.9" y1="266.2" x2="25.9" y2="226" stroke="#000" stroke-width="1.5"/>
<polygon points="25.9,218.6 22.6,226.6 29.2,226.6" fill="#000"/>
<text x="0" y="0" font-size="12.1" font-weight="normal" fill="#231f20" stroke="#231f20" stroke-width="0.22" transform="translate(28.70 318.13) rotate(-90)">% of Max</text>
<text x="0" y="0" font-size="11.52" font-weight="normal" fill="#231f20" stroke="#231f20" stroke-width="0.22" transform="translate(30.36 333.00) scale(1 1.04)">Phospho–PD-1</text>
<line x1="110.3" y1="328.8" x2="176" y2="328.8" stroke="#000" stroke-width="1.5"/>
<polygon points="183.4,328.8 175.4,325.5 175.4,332.1" fill="#000"/>
<rect x="24.1" y="345.3" width="14.7" height="7.6" fill="#e4e4e4" stroke="#b0b0b0" stroke-width="1.7"/>
<rect x="24.1" y="358.3" width="14.7" height="8.3" fill="#fff" stroke="#f47b20" stroke-width="1.7"/>
<rect x="24.1" y="371.9" width="14.7" height="8.3" fill="#fff" stroke="#3a50a8" stroke-width="1.7"/>
<text x="43.06" y="351.80" font-size="10.2" font-weight="normal" fill="#231f20" stroke="#231f20" stroke-width="0.22">Isotype control</text>
<text x="43.40" y="365.30" font-size="10.1" font-weight="normal" fill="#231f20" stroke="#231f20" stroke-width="0.22">hIgG treated, phospho–PD-1</text>
<text x="44.08" y="378.90" font-size="9.94" font-weight="normal" fill="#231f20" stroke="#231f20" stroke-width="0.22">Tetramer treated, phospho–PD-1</text>
<text x="213.8" y="213.0" font-size="20" text-anchor="start" font-weight="bold" fill="#000">E</text>
<path d="M240.70,320.20 C245.95,320.00 266.65,319.32 272.20,319.00 C277.75,318.68 273.40,318.63 274.00,318.30 C274.60,317.97 275.28,317.52 275.80,317.00 C276.32,316.48 276.70,315.88 277.10,315.20 C277.50,314.52 277.87,313.93 278.20,312.90 C278.53,311.87 278.82,310.40 279.10,309.00 C279.38,307.60 279.67,306.42 279.90,304.50 C280.13,302.58 280.30,299.92 280.50,297.50 C280.70,295.08 280.90,293.25 281.10,290.00 C281.30,286.75 281.50,282.00 281.70,278.00 C281.90,274.00 282.08,269.83 282.30,266.00 C282.52,262.17 282.76,258.60 283.00,255.00 C283.24,251.40 283.50,247.15 283.75,244.40 C284.00,241.65 284.23,240.10 284.50,238.50 C284.77,236.90 285.25,235.42 285.40,234.80 C285.55,235.42 286.02,236.90 286.30,238.50 C286.58,240.10 286.87,241.65 287.10,244.40 C287.33,247.15 287.50,251.40 287.70,255.00 C287.90,258.60 288.10,262.17 288.30,266.00 C288.50,269.83 288.70,274.00 288.90,278.00 C289.10,282.00 289.28,286.92 289.50,290.00 C289.72,293.08 289.95,294.48 290.20,296.50 C290.45,298.52 290.73,300.52 291.00,302.10 C291.27,303.68 291.53,304.80 291.80,306.00 C292.07,307.20 292.28,308.38 292.60,309.30 C292.92,310.22 293.30,310.90 293.70,311.50 C294.10,312.10 294.58,312.50 295.00,312.90 C295.42,313.30 295.78,313.62 296.20,313.90 C296.62,314.18 297.08,314.42 297.50,314.60 C297.92,314.78 298.30,314.88 298.70,315.00 C299.10,315.12 299.50,315.13 299.90,315.30 C300.30,315.47 300.70,315.72 301.10,316.00 C301.50,316.28 301.82,316.63 302.30,317.00 C302.78,317.37 303.40,317.87 304.00,318.20 C304.60,318.53 305.23,318.78 305.90,319.00 C306.57,319.22 303.78,319.30 308.00,319.50 C312.22,319.70 327.33,320.08 331.20,320.20 Z" fill="#e6e6e6" stroke="#aaa" stroke-width="0.6"/>
<path d="M240.7,320.2 L240.7,229.4 L331.2,229.4 L331.2,320.2" fill="none" stroke="#555" stroke-width="1"/>
<line x1="240.7" y1="320.2" x2="331.2" y2="320.2" stroke="#444" stroke-width="0.9"/>
<path d="M240.70,319.60 C245.95,319.50 266.65,319.22 272.20,319.00 C277.75,318.78 273.40,318.63 274.00,318.30 C274.60,317.97 275.28,317.52 275.80,317.00 C276.32,316.48 276.70,315.88 277.10,315.20 C277.50,314.52 277.87,313.93 278.20,312.90 C278.53,311.87 278.82,310.40 279.10,309.00 C279.38,307.60 279.67,306.42 279.90,304.50 C280.13,302.58 280.30,299.92 280.50,297.50 C280.70,295.08 280.90,293.25 281.10,290.00 C281.30,286.75 281.50,282.00 281.70,278.00 C281.90,274.00 282.08,269.83 282.30,266.00 C282.52,262.17 282.76,258.60 283.00,255.00 C283.24,251.40 283.50,247.15 283.75,244.40 C284.00,241.65 284.23,240.10 284.50,238.50 C284.77,236.90 285.25,235.42 285.40,234.80 C285.55,235.42 286.02,236.90 286.30,238.50 C286.58,240.10 286.87,241.65 287.10,244.40 C287.33,247.15 287.50,251.40 287.70,255.00 C287.90,258.60 288.10,262.17 288.30,266.00 C288.50,269.83 288.70,274.00 288.90,278.00 C289.10,282.00 289.28,286.92 289.50,290.00 C289.72,293.08 289.95,294.48 290.20,296.50 C290.45,298.52 290.73,300.52 291.00,302.10 C291.27,303.68 291.53,304.80 291.80,306.00 C292.07,307.20 292.28,308.38 292.60,309.30 C292.92,310.22 293.30,310.90 293.70,311.50 C294.10,312.10 294.58,312.50 295.00,312.90 C295.42,313.30 295.78,313.62 296.20,313.90 C296.62,314.18 297.08,314.42 297.50,314.60 C297.92,314.78 298.30,314.88 298.70,315.00 C299.10,315.12 299.50,315.13 299.90,315.30 C300.30,315.47 300.70,315.72 301.10,316.00 C301.50,316.28 301.82,316.63 302.30,317.00 C302.78,317.37 303.40,317.87 304.00,318.20 C304.60,318.53 305.23,318.78 305.90,319.00 C306.57,319.22 303.78,319.40 308.00,319.50 C312.22,319.60 327.33,319.58 331.20,319.60" fill="none" stroke="#3a50a8" stroke-width="1.1"/>
<line x1="238.29999999999998" y1="320.2" x2="240.7" y2="320.2" stroke="#777" stroke-width="0.9"/>
<line x1="239.5" y1="316.724" x2="240.7" y2="316.724" stroke="#888" stroke-width="0.5"/>
<line x1="239.5" y1="313.248" x2="240.7" y2="313.248" stroke="#888" stroke-width="0.5"/>
<line x1="239.5" y1="309.772" x2="240.7" y2="309.772" stroke="#888" stroke-width="0.5"/>
<line x1="239.5" y1="306.296" x2="240.7" y2="306.296" stroke="#888" stroke-width="0.5"/>
<line x1="238.29999999999998" y1="302.82" x2="240.7" y2="302.82" stroke="#777" stroke-width="0.9"/>
<line x1="239.5" y1="299.344" x2="240.7" y2="299.344" stroke="#888" stroke-width="0.5"/>
<line x1="239.5" y1="295.868" x2="240.7" y2="295.868" stroke="#888" stroke-width="0.5"/>
<line x1="239.5" y1="292.392" x2="240.7" y2="292.392" stroke="#888" stroke-width="0.5"/>
<line x1="239.5" y1="288.916" x2="240.7" y2="288.916" stroke="#888" stroke-width="0.5"/>
<line x1="238.29999999999998" y1="285.44" x2="240.7" y2="285.44" stroke="#777" stroke-width="0.9"/>
<line x1="239.5" y1="281.964" x2="240.7" y2="281.964" stroke="#888" stroke-width="0.5"/>
<line x1="239.5" y1="278.488" x2="240.7" y2="278.488" stroke="#888" stroke-width="0.5"/>
<line x1="239.5" y1="275.012" x2="240.7" y2="275.012" stroke="#888" stroke-width="0.5"/>
<line x1="239.5" y1="271.536" x2="240.7" y2="271.536" stroke="#888" stroke-width="0.5"/>
<line x1="238.29999999999998" y1="268.06" x2="240.7" y2="268.06" stroke="#777" stroke-width="0.9"/>
<line x1="239.5" y1="264.584" x2="240.7" y2="264.584" stroke="#888" stroke-width="0.5"/>
<line x1="239.5" y1="261.108" x2="240.7" y2="261.108" stroke="#888" stroke-width="0.5"/>
<line x1="239.5" y1="257.632" x2="240.7" y2="257.632" stroke="#888" stroke-width="0.5"/>
<line x1="239.5" y1="254.156" x2="240.7" y2="254.156" stroke="#888" stroke-width="0.5"/>
<line x1="238.29999999999998" y1="250.68" x2="240.7" y2="250.68" stroke="#777" stroke-width="0.9"/>
<line x1="239.5" y1="247.204" x2="240.7" y2="247.204" stroke="#888" stroke-width="0.5"/>
<line x1="239.5" y1="243.728" x2="240.7" y2="243.728" stroke="#888" stroke-width="0.5"/>
<line x1="239.5" y1="240.252" x2="240.7" y2="240.252" stroke="#888" stroke-width="0.5"/>
<line x1="239.5" y1="236.776" x2="240.7" y2="236.776" stroke="#888" stroke-width="0.5"/>
<line x1="238.29999999999998" y1="233.3" x2="240.7" y2="233.3" stroke="#777" stroke-width="0.9"/>
<line x1="256.7" y1="320.2" x2="256.7" y2="322.5" stroke="#666" stroke-width="0.8"/>
<line x1="275.39021739130436" y1="320.2" x2="275.39021739130436" y2="322.5" stroke="#666" stroke-width="0.8"/>
<line x1="294.0804347826087" y1="320.2" x2="294.0804347826087" y2="322.5" stroke="#666" stroke-width="0.8"/>
<line x1="312.77065217391305" y1="320.2" x2="312.77065217391305" y2="322.5" stroke="#666" stroke-width="0.8"/>
<text x="253.10" y="222.90" font-size="13.1" font-weight="normal" fill="#231f20" stroke="#231f20" stroke-width="0.22">Untreated</text>
<path d="M338.30,320.20 C343.55,319.92 364.10,319.03 369.80,318.50 C375.50,317.97 371.67,317.53 372.50,317.00 C373.33,316.47 374.18,316.22 374.80,315.30 C375.42,314.38 375.80,312.88 376.20,311.50 C376.60,310.12 376.87,309.25 377.20,307.00 C377.53,304.75 377.88,300.83 378.20,298.00 C378.52,295.17 378.80,293.33 379.10,290.00 C379.40,286.67 379.72,282.00 380.00,278.00 C380.28,274.00 380.57,269.83 380.80,266.00 C381.03,262.17 381.20,258.60 381.40,255.00 C381.60,251.40 381.82,246.98 382.00,244.40 C382.18,241.82 382.33,240.70 382.50,239.50 C382.67,238.30 382.92,237.58 383.00,237.20 C383.15,237.67 383.58,238.80 383.90,240.00 C384.22,241.20 384.58,241.90 384.90,244.40 C385.22,246.90 385.52,251.40 385.80,255.00 C386.08,258.60 386.37,262.17 386.60,266.00 C386.83,269.83 387.00,274.00 387.20,278.00 C387.40,282.00 387.53,286.92 387.80,290.00 C388.07,293.08 388.40,294.48 388.80,296.50 C389.20,298.52 389.68,300.30 390.20,302.10 C390.72,303.90 391.30,305.70 391.90,307.30 C392.50,308.90 393.10,310.38 393.80,311.70 C394.50,313.02 395.28,314.20 396.10,315.20 C396.92,316.20 397.80,317.05 398.70,317.70 C399.60,318.35 400.62,318.78 401.50,319.10 C402.38,319.42 399.35,319.42 404.00,319.60 C408.65,319.78 425.17,320.10 429.40,320.20 Z" fill="#e6e6e6" stroke="#aaa" stroke-width="0.6"/>
<path d="M338.3,320.2 L338.3,229.4 L429.4,229.4 L429.4,320.2" fill="none" stroke="#555" stroke-width="1"/>
<line x1="338.3" y1="320.2" x2="429.4" y2="320.2" stroke="#444" stroke-width="0.9"/>
<path d="M338.30,319.60 C343.55,319.42 364.10,318.93 369.80,318.50 C375.50,318.07 371.70,317.53 372.50,317.00 C373.30,316.47 374.02,316.22 374.60,315.30 C375.18,314.38 375.60,312.88 376.00,311.50 C376.40,310.12 376.67,309.25 377.00,307.00 C377.33,304.75 377.68,300.83 378.00,298.00 C378.32,295.17 378.60,293.33 378.90,290.00 C379.20,286.67 379.52,282.00 379.80,278.00 C380.08,274.00 380.37,269.83 380.60,266.00 C380.83,262.17 381.00,258.60 381.20,255.00 C381.40,251.40 381.53,247.23 381.80,244.40 C382.07,241.57 382.48,239.60 382.80,238.00 C383.12,236.40 383.59,235.33 383.75,234.80 C383.93,235.33 384.39,236.40 384.80,238.00 C385.21,239.60 385.88,241.57 386.20,244.40 C386.52,247.23 386.55,251.40 386.70,255.00 C386.85,258.60 386.92,262.17 387.10,266.00 C387.28,269.83 387.58,275.25 387.80,278.00 C388.02,280.75 388.20,281.28 388.40,282.50 C388.60,283.72 388.70,284.38 389.00,285.30 C389.30,286.22 389.80,287.22 390.20,288.00 C390.60,288.78 391.00,289.28 391.40,290.00 C391.80,290.72 392.20,291.48 392.60,292.30 C393.00,293.12 393.42,293.90 393.80,294.90 C394.18,295.90 394.57,297.10 394.90,298.30 C395.23,299.50 395.50,300.85 395.80,302.10 C396.10,303.35 396.42,304.60 396.70,305.80 C396.98,307.00 397.18,308.18 397.50,309.30 C397.82,310.42 398.20,311.50 398.60,312.50 C399.00,313.50 399.42,314.52 399.90,315.30 C400.38,316.08 400.90,316.67 401.50,317.20 C402.10,317.73 402.75,318.15 403.50,318.50 C404.25,318.85 405.08,319.12 406.00,319.30 C406.92,319.48 405.10,319.55 409.00,319.60 C412.90,319.65 426.00,319.60 429.40,319.60" fill="none" stroke="#3a50a8" stroke-width="1.1"/>
<line x1="335.90000000000003" y1="320.2" x2="338.3" y2="320.2" stroke="#777" stroke-width="0.9"/>
<line x1="337.1" y1="316.724" x2="338.3" y2="316.724" stroke="#888" stroke-width="0.5"/>
<line x1="337.1" y1="313.248" x2="338.3" y2="313.248" stroke="#888" stroke-width="0.5"/>
<line x1="337.1" y1="309.772" x2="338.3" y2="309.772" stroke="#888" stroke-width="0.5"/>
<line x1="337.1" y1="306.296" x2="338.3" y2="306.296" stroke="#888" stroke-width="0.5"/>
<line x1="335.90000000000003" y1="302.82" x2="338.3" y2="302.82" stroke="#777" stroke-width="0.9"/>
<line x1="337.1" y1="299.344" x2="338.3" y2="299.344" stroke="#888" stroke-width="0.5"/>
<line x1="337.1" y1="295.868" x2="338.3" y2="295.868" stroke="#888" stroke-width="0.5"/>
<line x1="337.1" y1="292.392" x2="338.3" y2="292.392" stroke="#888" stroke-width="0.5"/>
<line x1="337.1" y1="288.916" x2="338.3" y2="288.916" stroke="#888" stroke-width="0.5"/>
<line x1="335.90000000000003" y1="285.44" x2="338.3" y2="285.44" stroke="#777" stroke-width="0.9"/>
<line x1="337.1" y1="281.964" x2="338.3" y2="281.964" stroke="#888" stroke-width="0.5"/>
<line x1="337.1" y1="278.488" x2="338.3" y2="278.488" stroke="#888" stroke-width="0.5"/>
<line x1="337.1" y1="275.012" x2="338.3" y2="275.012" stroke="#888" stroke-width="0.5"/>
<line x1="337.1" y1="271.536" x2="338.3" y2="271.536" stroke="#888" stroke-width="0.5"/>
<line x1="335.90000000000003" y1="268.06" x2="338.3" y2="268.06" stroke="#777" stroke-width="0.9"/>
<line x1="337.1" y1="264.584" x2="338.3" y2="264.584" stroke="#888" stroke-width="0.5"/>
<line x1="337.1" y1="261.108" x2="338.3" y2="261.108" stroke="#888" stroke-width="0.5"/>
<line x1="337.1" y1="257.632" x2="338.3" y2="257.632" stroke="#888" stroke-width="0.5"/>
<line x1="337.1" y1="254.156" x2="338.3" y2="254.156" stroke="#888" stroke-width="0.5"/>
<line x1="335.90000000000003" y1="250.68" x2="338.3" y2="250.68" stroke="#777" stroke-width="0.9"/>
<line x1="337.1" y1="247.204" x2="338.3" y2="247.204" stroke="#888" stroke-width="0.5"/>
<line x1="337.1" y1="243.728" x2="338.3" y2="243.728" stroke="#888" stroke-width="0.5"/>
<line x1="337.1" y1="240.252" x2="338.3" y2="240.252" stroke="#888" stroke-width="0.5"/>
<line x1="337.1" y1="236.776" x2="338.3" y2="236.776" stroke="#888" stroke-width="0.5"/>
<line x1="335.90000000000003" y1="233.3" x2="338.3" y2="233.3" stroke="#777" stroke-width="0.9"/>
<line x1="354.3" y1="320.2" x2="354.3" y2="322.5" stroke="#666" stroke-width="0.8"/>
<line x1="373.1141304347826" y1="320.2" x2="373.1141304347826" y2="322.5" stroke="#666" stroke-width="0.8"/>
<line x1="391.92826086956524" y1="320.2" x2="391.92826086956524" y2="322.5" stroke="#666" stroke-width="0.8"/>
<line x1="410.7423913043478" y1="320.2" x2="410.7423913043478" y2="322.5" stroke="#666" stroke-width="0.8"/>
<text x="373.82" y="222.90" font-size="13.1" font-weight="normal" fill="#231f20" stroke="#231f20" stroke-width="0.22">10 m</text>
<path d="M435.50,320.20 C440.92,319.92 462.17,319.03 468.00,318.50 C473.83,317.97 469.67,317.53 470.50,317.00 C471.33,316.47 472.35,316.22 473.00,315.30 C473.65,314.38 474.00,312.88 474.40,311.50 C474.80,310.12 475.08,309.25 475.40,307.00 C475.72,304.75 476.02,300.83 476.30,298.00 C476.58,295.17 476.85,293.33 477.10,290.00 C477.35,286.67 477.57,282.00 477.80,278.00 C478.03,274.00 478.30,269.83 478.50,266.00 C478.70,262.17 478.83,258.60 479.00,255.00 C479.17,251.40 479.32,247.07 479.50,244.40 C479.68,241.73 479.89,240.28 480.10,239.00 C480.31,237.72 480.64,237.08 480.75,236.70 C480.89,237.17 481.31,238.22 481.60,239.50 C481.89,240.78 482.25,241.82 482.50,244.40 C482.75,246.98 482.92,251.40 483.10,255.00 C483.28,258.60 483.35,262.17 483.60,266.00 C483.85,269.83 484.27,274.00 484.60,278.00 C484.93,282.00 485.23,286.75 485.60,290.00 C485.97,293.25 486.33,295.08 486.80,297.50 C487.27,299.92 487.85,302.55 488.40,304.50 C488.95,306.45 489.50,307.80 490.10,309.20 C490.70,310.60 491.30,311.80 492.00,312.90 C492.70,314.00 493.48,314.95 494.30,315.80 C495.12,316.65 496.03,317.43 496.90,318.00 C497.77,318.57 498.65,318.93 499.50,319.20 C500.35,319.47 497.38,319.43 502.00,319.60 C506.62,319.77 523.00,320.10 527.20,320.20 Z" fill="#e6e6e6" stroke="#aaa" stroke-width="0.6"/>
<path d="M435.5,320.2 L435.5,229.4 L527.2,229.4 L527.2,320.2" fill="none" stroke="#555" stroke-width="1"/>
<line x1="435.5" y1="320.2" x2="527.2" y2="320.2" stroke="#444" stroke-width="0.9"/>
<path d="M435.50,319.60 C440.92,319.42 462.17,318.93 468.00,318.50 C473.83,318.07 469.70,317.53 470.50,317.00 C471.30,316.47 472.18,316.22 472.80,315.30 C473.42,314.38 473.80,312.88 474.20,311.50 C474.60,310.12 474.88,309.25 475.20,307.00 C475.52,304.75 475.82,300.83 476.10,298.00 C476.38,295.17 476.65,293.33 476.90,290.00 C477.15,286.67 477.37,282.00 477.60,278.00 C477.83,274.00 478.10,269.83 478.30,266.00 C478.50,262.17 478.63,258.60 478.80,255.00 C478.97,251.40 479.07,247.23 479.30,244.40 C479.53,241.57 479.88,239.60 480.20,238.00 C480.52,236.40 481.03,235.33 481.20,234.80 C481.38,235.33 481.90,236.40 482.30,238.00 C482.70,239.60 483.28,241.57 483.60,244.40 C483.92,247.23 484.00,251.40 484.20,255.00 C484.40,258.60 484.57,262.17 484.80,266.00 C485.03,269.83 485.38,275.25 485.60,278.00 C485.82,280.75 485.90,281.08 486.10,282.50 C486.30,283.92 486.52,285.37 486.80,286.50 C487.08,287.63 487.45,288.50 487.80,289.30 C488.15,290.10 488.52,290.63 488.90,291.30 C489.28,291.97 489.70,292.62 490.10,293.30 C490.50,293.98 490.92,294.53 491.30,295.40 C491.68,296.27 492.07,297.38 492.40,298.50 C492.73,299.62 492.98,300.88 493.30,302.10 C493.62,303.32 493.98,304.60 494.30,305.80 C494.62,307.00 494.88,308.18 495.20,309.30 C495.52,310.42 495.85,311.50 496.20,312.50 C496.55,313.50 496.87,314.52 497.30,315.30 C497.73,316.08 498.27,316.67 498.80,317.20 C499.33,317.73 499.80,318.15 500.50,318.50 C501.20,318.85 502.08,319.12 503.00,319.30 C503.92,319.48 501.97,319.55 506.00,319.60 C510.03,319.65 523.67,319.60 527.20,319.60" fill="none" stroke="#3a50a8" stroke-width="1.1"/>
<line x1="433.1" y1="320.2" x2="435.5" y2="320.2" stroke="#777" stroke-width="0.9"/>
<line x1="434.3" y1="316.724" x2="435.5" y2="316.724" stroke="#888" stroke-width="0.5"/>
<line x1="434.3" y1="313.248" x2="435.5" y2="313.248" stroke="#888" stroke-width="0.5"/>
<line x1="434.3" y1="309.772" x2="435.5" y2="309.772" stroke="#888" stroke-width="0.5"/>
<line x1="434.3" y1="306.296" x2="435.5" y2="306.296" stroke="#888" stroke-width="0.5"/>
<line x1="433.1" y1="302.82" x2="435.5" y2="302.82" stroke="#777" stroke-width="0.9"/>
<line x1="434.3" y1="299.344" x2="435.5" y2="299.344" stroke="#888" stroke-width="0.5"/>
<line x1="434.3" y1="295.868" x2="435.5" y2="295.868" stroke="#888" stroke-width="0.5"/>
<line x1="434.3" y1="292.392" x2="435.5" y2="292.392" stroke="#888" stroke-width="0.5"/>
<line x1="434.3" y1="288.916" x2="435.5" y2="288.916" stroke="#888" stroke-width="0.5"/>
<line x1="433.1" y1="285.44" x2="435.5" y2="285.44" stroke="#777" stroke-width="0.9"/>
<line x1="434.3" y1="281.964" x2="435.5" y2="281.964" stroke="#888" stroke-width="0.5"/>
<line x1="434.3" y1="278.488" x2="435.5" y2="278.488" stroke="#888" stroke-width="0.5"/>
<line x1="434.3" y1="275.012" x2="435.5" y2="275.012" stroke="#888" stroke-width="0.5"/>
<line x1="434.3" y1="271.536" x2="435.5" y2="271.536" stroke="#888" stroke-width="0.5"/>
<line x1="433.1" y1="268.06" x2="435.5" y2="268.06" stroke="#777" stroke-width="0.9"/>
<line x1="434.3" y1="264.584" x2="435.5" y2="264.584" stroke="#888" stroke-width="0.5"/>
<line x1="434.3" y1="261.108" x2="435.5" y2="261.108" stroke="#888" stroke-width="0.5"/>
<line x1="434.3" y1="257.632" x2="435.5" y2="257.632" stroke="#888" stroke-width="0.5"/>
<line x1="434.3" y1="254.156" x2="435.5" y2="254.156" stroke="#888" stroke-width="0.5"/>
<line x1="433.1" y1="250.68" x2="435.5" y2="250.68" stroke="#777" stroke-width="0.9"/>
<line x1="434.3" y1="247.204" x2="435.5" y2="247.204" stroke="#888" stroke-width="0.5"/>
<line x1="434.3" y1="243.728" x2="435.5" y2="243.728" stroke="#888" stroke-width="0.5"/>
<line x1="434.3" y1="240.252" x2="435.5" y2="240.252" stroke="#888" stroke-width="0.5"/>
<line x1="434.3" y1="236.776" x2="435.5" y2="236.776" stroke="#888" stroke-width="0.5"/>
<line x1="433.1" y1="233.3" x2="435.5" y2="233.3" stroke="#777" stroke-width="0.9"/>
<line x1="451.5" y1="320.2" x2="451.5" y2="322.5" stroke="#666" stroke-width="0.8"/>
<line x1="470.43804347826085" y1="320.2" x2="470.43804347826085" y2="322.5" stroke="#666" stroke-width="0.8"/>
<line x1="489.37608695652176" y1="320.2" x2="489.37608695652176" y2="322.5" stroke="#666" stroke-width="0.8"/>
<line x1="508.3141304347826" y1="320.2" x2="508.3141304347826" y2="322.5" stroke="#666" stroke-width="0.8"/>
<text x="478.82" y="222.90" font-size="13.1" font-weight="normal" fill="#231f20" stroke="#231f20" stroke-width="0.22">1 h</text>
<path d="M533.60,320.20 C539.27,319.92 561.62,319.00 567.60,318.50 C573.58,318.00 568.90,317.73 569.50,317.20 C570.10,316.67 570.73,316.25 571.20,315.30 C571.67,314.35 571.98,312.88 572.30,311.50 C572.62,310.12 572.82,309.25 573.10,307.00 C573.38,304.75 573.72,300.83 574.00,298.00 C574.28,295.17 574.57,293.33 574.80,290.00 C575.03,286.67 575.20,282.00 575.40,278.00 C575.60,274.00 575.80,269.83 576.00,266.00 C576.20,262.17 576.40,258.60 576.60,255.00 C576.80,251.40 577.00,247.07 577.20,244.40 C577.40,241.73 577.60,240.28 577.80,239.00 C578.00,237.72 578.30,237.08 578.40,236.70 C578.60,237.17 579.20,238.22 579.60,239.50 C580.00,240.78 580.50,241.82 580.80,244.40 C581.10,246.98 581.20,251.40 581.40,255.00 C581.60,258.60 581.80,262.17 582.00,266.00 C582.20,269.83 582.40,274.00 582.60,278.00 C582.80,282.00 582.93,286.67 583.20,290.00 C583.47,293.33 583.80,295.58 584.20,298.00 C584.60,300.42 585.08,302.53 585.60,304.50 C586.12,306.47 586.70,308.20 587.30,309.80 C587.90,311.40 588.50,312.95 589.20,314.10 C589.90,315.25 590.70,315.97 591.50,316.70 C592.30,317.43 593.08,318.07 594.00,318.50 C594.92,318.93 596.00,319.12 597.00,319.30 C598.00,319.48 595.37,319.45 600.00,319.60 C604.63,319.75 620.67,320.10 624.80,320.20 Z" fill="#e6e6e6" stroke="#aaa" stroke-width="0.6"/>
<path d="M533.6,320.2 L533.6,229.4 L624.8,229.4 L624.8,320.2" fill="none" stroke="#555" stroke-width="1"/>
<line x1="533.6" y1="320.2" x2="624.8" y2="320.2" stroke="#444" stroke-width="0.9"/>
<path d="M533.60,319.60 C539.27,319.42 561.53,318.93 567.60,318.50 C573.67,318.07 569.27,317.53 570.00,317.00 C570.73,316.47 571.45,316.22 572.00,315.30 C572.55,314.38 572.92,312.88 573.30,311.50 C573.68,310.12 573.98,309.25 574.30,307.00 C574.62,304.75 574.92,300.83 575.20,298.00 C575.48,295.17 575.77,293.33 576.00,290.00 C576.23,286.67 576.40,282.00 576.60,278.00 C576.80,274.00 577.00,269.83 577.20,266.00 C577.40,262.17 577.60,258.60 577.80,255.00 C578.00,251.40 578.17,247.23 578.40,244.40 C578.63,241.57 578.92,239.52 579.20,238.00 C579.48,236.48 579.95,235.75 580.10,235.30 C580.25,235.83 580.68,236.98 581.00,238.50 C581.32,240.02 581.67,241.65 582.00,244.40 C582.33,247.15 582.67,251.40 583.00,255.00 C583.33,258.60 583.57,262.17 584.00,266.00 C584.43,269.83 585.13,275.00 585.60,278.00 C586.07,281.00 586.40,282.00 586.80,284.00 C587.20,286.00 587.58,288.17 588.00,290.00 C588.42,291.83 588.88,293.38 589.30,295.00 C589.72,296.62 590.10,298.20 590.50,299.70 C590.90,301.20 591.30,302.60 591.70,304.00 C592.10,305.40 592.45,306.85 592.90,308.10 C593.35,309.35 593.88,310.50 594.40,311.50 C594.92,312.50 595.40,313.32 596.00,314.10 C596.60,314.88 597.32,315.60 598.00,316.20 C598.68,316.80 599.27,317.25 600.10,317.70 C600.93,318.15 602.02,318.60 603.00,318.90 C603.98,319.20 602.37,319.38 606.00,319.50 C609.63,319.62 621.67,319.58 624.80,319.60" fill="none" stroke="#3a50a8" stroke-width="1.1"/>
<line x1="531.2" y1="320.2" x2="533.6" y2="320.2" stroke="#777" stroke-width="0.9"/>
<line x1="532.4" y1="316.724" x2="533.6" y2="316.724" stroke="#888" stroke-width="0.5"/>
<line x1="532.4" y1="313.248" x2="533.6" y2="313.248" stroke="#888" stroke-width="0.5"/>
<line x1="532.4" y1="309.772" x2="533.6" y2="309.772" stroke="#888" stroke-width="0.5"/>
<line x1="532.4" y1="306.296" x2="533.6" y2="306.296" stroke="#888" stroke-width="0.5"/>
<line x1="531.2" y1="302.82" x2="533.6" y2="302.82" stroke="#777" stroke-width="0.9"/>
<line x1="532.4" y1="299.344" x2="533.6" y2="299.344" stroke="#888" stroke-width="0.5"/>
<line x1="532.4" y1="295.868" x2="533.6" y2="295.868" stroke="#888" stroke-width="0.5"/>
<line x1="532.4" y1="292.392" x2="533.6" y2="292.392" stroke="#888" stroke-width="0.5"/>
<line x1="532.4" y1="288.916" x2="533.6" y2="288.916" stroke="#888" stroke-width="0.5"/>
<line x1="531.2" y1="285.44" x2="533.6" y2="285.44" stroke="#777" stroke-width="0.9"/>
<line x1="532.4" y1="281.964" x2="533.6" y2="281.964" stroke="#888" stroke-width="0.5"/>
<line x1="532.4" y1="278.488" x2="533.6" y2="278.488" stroke="#888" stroke-width="0.5"/>
<line x1="532.4" y1="275.012" x2="533.6" y2="275.012" stroke="#888" stroke-width="0.5"/>
<line x1="532.4" y1="271.536" x2="533.6" y2="271.536" stroke="#888" stroke-width="0.5"/>
<line x1="531.2" y1="268.06" x2="533.6" y2="268.06" stroke="#777" stroke-width="0.9"/>
<line x1="532.4" y1="264.584" x2="533.6" y2="264.584" stroke="#888" stroke-width="0.5"/>
<line x1="532.4" y1="261.108" x2="533.6" y2="261.108" stroke="#888" stroke-width="0.5"/>
<line x1="532.4" y1="257.632" x2="533.6" y2="257.632" stroke="#888" stroke-width="0.5"/>
<line x1="532.4" y1="254.156" x2="533.6" y2="254.156" stroke="#888" stroke-width="0.5"/>
<line x1="531.2" y1="250.68" x2="533.6" y2="250.68" stroke="#777" stroke-width="0.9"/>
<line x1="532.4" y1="247.204" x2="533.6" y2="247.204" stroke="#888" stroke-width="0.5"/>
<line x1="532.4" y1="243.728" x2="533.6" y2="243.728" stroke="#888" stroke-width="0.5"/>
<line x1="532.4" y1="240.252" x2="533.6" y2="240.252" stroke="#888" stroke-width="0.5"/>
<line x1="532.4" y1="236.776" x2="533.6" y2="236.776" stroke="#888" stroke-width="0.5"/>
<line x1="531.2" y1="233.3" x2="533.6" y2="233.3" stroke="#777" stroke-width="0.9"/>
<line x1="549.6" y1="320.2" x2="549.6" y2="322.5" stroke="#666" stroke-width="0.8"/>
<line x1="568.4347826086956" y1="320.2" x2="568.4347826086956" y2="322.5" stroke="#666" stroke-width="0.8"/>
<line x1="587.2695652173913" y1="320.2" x2="587.2695652173913" y2="322.5" stroke="#666" stroke-width="0.8"/>
<line x1="606.104347826087" y1="320.2" x2="606.104347826087" y2="322.5" stroke="#666" stroke-width="0.8"/>
<text x="571.24" y="222.90" font-size="13.1" font-weight="normal" fill="#231f20" stroke="#231f20" stroke-width="0.22">2 h</text>
<line x1="231.3" y1="270.2" x2="231.3" y2="237.5" stroke="#000" stroke-width="1.5"/>
<polygon points="231.3,230.0 228.0,238.0 234.6,238.0" fill="#000"/>
<text x="0" y="0" font-size="11.77" font-weight="normal" fill="#231f20" stroke="#231f20" stroke-width="0.22" transform="translate(235.60 320.42) rotate(-90)">% of Max</text>
<text x="0" y="0" font-size="11.43" font-weight="normal" fill="#231f20" stroke="#231f20" stroke-width="0.22" transform="translate(241.36 332.80) scale(1 1.04)">Phospho–PD-1</text>
<line x1="320.8" y1="328.6" x2="617" y2="328.6" stroke="#000" stroke-width="1.5"/>
<polygon points="624.8,328.6 616.8,325.3 616.8,331.9" fill="#000"/>
<rect x="416.2" y="348.4" width="14.8" height="8.2" fill="#e4e4e4" stroke="#a8a8a8" stroke-width="1.3"/>
<rect x="416.2" y="363.5" width="14.8" height="7.6" fill="#fff" stroke="#3a50a8" stroke-width="1.6"/>
<text x="437.00" y="355.90" font-size="10.1" font-weight="normal" fill="#231f20" stroke="#231f20" stroke-width="0.22">hIgG treated</text>
<text x="435.20" y="370.70" font-size="10.14" font-weight="normal" fill="#231f20" stroke="#231f20" stroke-width="0.22">hPD-L1 tetramer treated</text>
<text x="0" y="0" font-size="20" font-weight="bold" fill="#000" transform="translate(641.7 213.7) scale(1 1.2)">F</text>
<line x1="695.0" y1="219.5" x2="695.0" y2="348.4" stroke="#6e6e6e" stroke-width="1.3"/>
<line x1="691.5" y1="348.4" x2="695.0" y2="348.4" stroke="#555" stroke-width="1.1"/>
<text x="684.98" y="351.80" font-size="9.9" font-weight="normal" fill="#231f20" stroke="#231f20" stroke-width="0.22">0</text>
<line x1="691.5" y1="305.43333333333334" x2="695.0" y2="305.43333333333334" stroke="#555" stroke-width="1.1"/>
<text x="673.97" y="308.83" font-size="9.9" font-weight="normal" fill="#231f20" stroke="#231f20" stroke-width="0.22">400</text>
<line x1="691.5" y1="262.46666666666664" x2="695.0" y2="262.46666666666664" stroke="#555" stroke-width="1.1"/>
<text x="673.97" y="265.87" font-size="9.9" font-weight="normal" fill="#231f20" stroke="#231f20" stroke-width="0.22">800</text>
<line x1="691.5" y1="219.5" x2="695.0" y2="219.5" stroke="#555" stroke-width="1.1"/>
<text x="665.71" y="222.90" font-size="9.9" font-weight="normal" fill="#231f20" stroke="#231f20" stroke-width="0.22">1,200</text>
<line x1="715.4" y1="348.4" x2="715.4" y2="350.7" stroke="#7a7a7a" stroke-width="1"/>
<line x1="755.5" y1="348.4" x2="755.5" y2="350.7" stroke="#7a7a7a" stroke-width="1"/>
<line x1="715.4" y1="234.6" x2="715.4" y2="254.5" stroke="#000" stroke-width="1.8"/>
<line x1="708.3" y1="234.6" x2="722.3" y2="234.6" stroke="#000" stroke-width="1.8"/>
<path d="M702.6,348.4 V254.5 H728.3 V348.4" fill="none" stroke="#000" stroke-width="1.9"/>
<line x1="755.5" y1="312.5" x2="755.5" y2="318.5" stroke="#e8362a" stroke-width="1.8"/>
<line x1="748.4" y1="312.5" x2="762.4" y2="312.5" stroke="#e8362a" stroke-width="1.8"/>
<path d="M742.9,348.4 V318.5 H768.2 V348.4" fill="none" stroke="#e8362a" stroke-width="1.9"/>
<line x1="692.5" y1="348.4" x2="774.8" y2="348.4" stroke="#333" stroke-width="1.1"/>
<line x1="715" y1="225.3" x2="764.6" y2="225.3" stroke="#111" stroke-width="1.1"/>
<polygon points="741.20,213.20 741.76,214.54 743.20,214.65 742.10,215.59 742.43,217.00 741.20,216.25 739.97,217.00 740.30,215.59 739.20,214.65 740.64,214.54" fill="#222"/>
<text x="707.75" y="360.60" font-size="11.4" font-weight="normal" fill="#231f20" stroke="#231f20" stroke-width="0.22">WT</text>
<text x="736.43" y="360.60" font-size="11.9" font-weight="normal" fill="#231f20" font-style="italic" stroke="#231f20" stroke-width="0.22">Pdcd1</text>
<text x="769.7" y="354.3" font-size="6.5" text-anchor="start" font-weight="normal" fill="#888">&#8722;/&#8722;</text>
<text x="0" y="0" font-size="11.54" font-weight="normal" fill="#231f20" stroke="#231f20" stroke-width="0.22" transform="translate(664.60 330.15) rotate(-90)">Phospho–PD-1 MFI</text>
</svg></body></html>
